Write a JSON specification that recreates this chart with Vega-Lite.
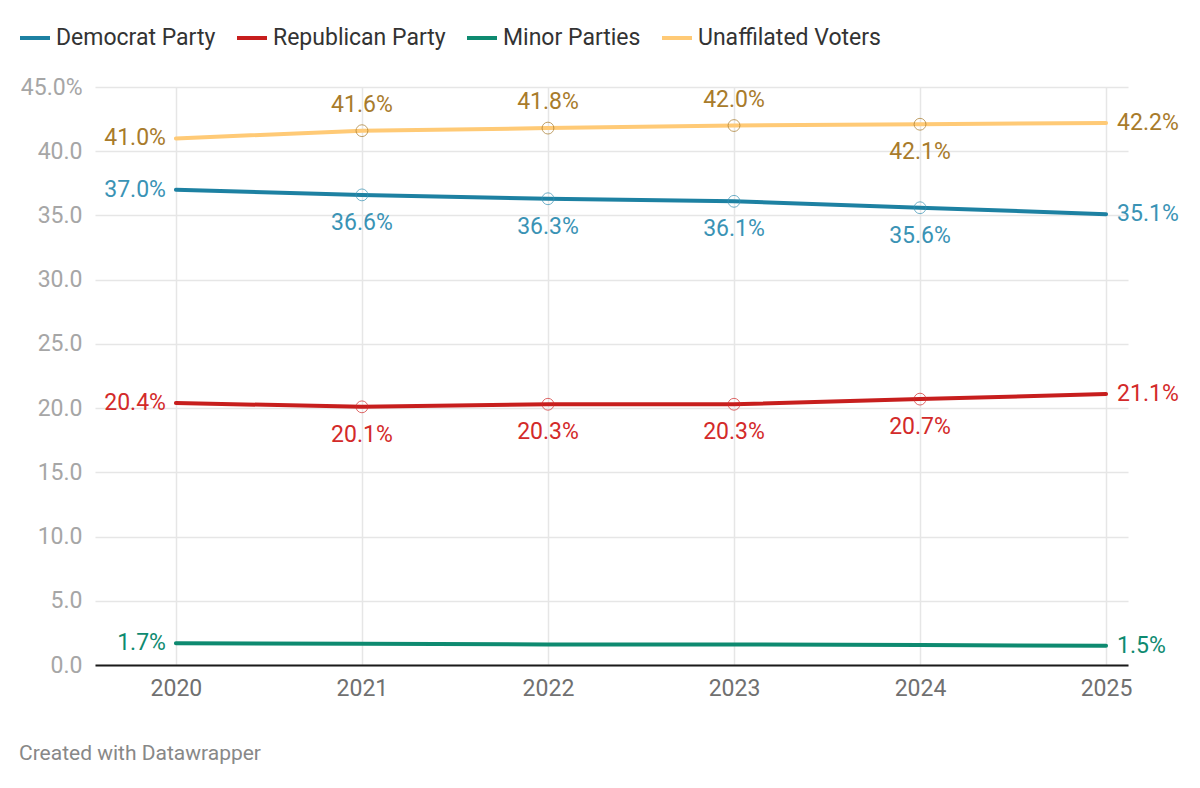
{
  "$schema": "https://vega.github.io/schema/vega-lite/v6.json",
  "width": 1033,
  "height": 578,
  "autosize": {"type": "none"},
  "padding": {"left": 95, "top": 87, "right": 72, "bottom": 123},
  "background": "white",
  "config": {
    "font": "Roboto",
    "view": {"stroke": null}
  },
  "title": {
    "text": "Created with Datawrapper",
    "orient": "bottom",
    "anchor": "start",
    "dx": 1,
    "offset": 43,
    "fontSize": 21,
    "fontWeight": "normal",
    "color": "#888888",
    "font": "Roboto"
  },
  "data": {
    "values": [
      {"year": 2020, "party": "Democrat Party", "value": 37.0},
      {"year": 2021, "party": "Democrat Party", "value": 36.6},
      {"year": 2022, "party": "Democrat Party", "value": 36.3},
      {"year": 2023, "party": "Democrat Party", "value": 36.1},
      {"year": 2024, "party": "Democrat Party", "value": 35.6},
      {"year": 2025, "party": "Democrat Party", "value": 35.1},
      {"year": 2020, "party": "Republican Party", "value": 20.4},
      {"year": 2021, "party": "Republican Party", "value": 20.1},
      {"year": 2022, "party": "Republican Party", "value": 20.3},
      {"year": 2023, "party": "Republican Party", "value": 20.3},
      {"year": 2024, "party": "Republican Party", "value": 20.7},
      {"year": 2025, "party": "Republican Party", "value": 21.1},
      {"year": 2020, "party": "Minor Parties", "value": 1.7},
      {"year": 2021, "party": "Minor Parties", "value": 1.65},
      {"year": 2022, "party": "Minor Parties", "value": 1.6},
      {"year": 2023, "party": "Minor Parties", "value": 1.6},
      {"year": 2024, "party": "Minor Parties", "value": 1.55},
      {"year": 2025, "party": "Minor Parties", "value": 1.5},
      {"year": 2020, "party": "Unaffilated Voters", "value": 41.0},
      {"year": 2021, "party": "Unaffilated Voters", "value": 41.6},
      {"year": 2022, "party": "Unaffilated Voters", "value": 41.8},
      {"year": 2023, "party": "Unaffilated Voters", "value": 42.0},
      {"year": 2024, "party": "Unaffilated Voters", "value": 42.1},
      {"year": 2025, "party": "Unaffilated Voters", "value": 42.2}
    ]
  },
  "transform": [
    {"calculate": "format(datum.value, '.1f') + '%'", "as": "label"}
  ],
  "encoding": {
    "x": {
      "field": "year",
      "type": "quantitative",
      "scale": {"domain": [2019.565, 2025.118], "nice": false, "zero": false},
      "axis": {
        "title": null,
        "values": [2020, 2021, 2022, 2023, 2024, 2025],
        "format": "d",
        "grid": true,
        "gridColor": "#e6e6e6",
        "gridWidth": 1.5,
        "ticks": false,
        "domain": true,
        "domainColor": "#1a1a1a",
        "domainWidth": 2,
        "labelFontSize": 23,
        "labelColor": "#707070",
        "labelPadding": 12,
        "labelFont": "Roboto"
      }
    },
    "y": {
      "field": "value",
      "type": "quantitative",
      "scale": {"domain": [0, 45], "nice": false},
      "axis": {
        "title": null,
        "values": [0, 5, 10, 15, 20, 25, 30, 35, 40, 45],
        "labelExpr": "datum.value == 45 ? format(datum.value, '.1f') + '%' : format(datum.value, '.1f')",
        "grid": true,
        "gridColor": "#e6e6e6",
        "gridWidth": 1.5,
        "ticks": false,
        "domain": false,
        "labelFontSize": 23,
        "labelColor": "#a6a6a6",
        "labelPadding": 13,
        "labelFont": "Roboto"
      }
    }
  },
  "layer": [
    {
      "mark": {"type": "line", "strokeWidth": 4, "strokeCap": "round"},
      "encoding": {
        "color": {
          "field": "party",
          "type": "nominal",
          "scale": {
            "domain": ["Democrat Party", "Republican Party", "Minor Parties", "Unaffilated Voters"],
            "range": ["#1d81a2", "#c71e1d", "#0e8a70", "#ffca76"]
          },
          "legend": {
            "title": null,
            "orient": "none",
            "direction": "horizontal",
            "legendX": -77,
            "legendY": -66,
            "symbolType": "stroke",
            "symbolStrokeWidth": 4,
            "symbolSize": 900,
            "labelFontSize": 23,
            "labelColor": "#333333",
            "labelFont": "Roboto",
            "labelOffset": 4,
            "columnPadding": 13,
            "labelLimit": 400
          }
        }
      }
    },
    {
      "transform": [{"filter": "datum.year > 2020 && datum.year < 2025 && datum.party != 'Minor Parties'"}],
      "mark": {"type": "point", "shape": "circle", "filled": false, "size": 140, "strokeWidth": 1},
      "encoding": {
        "color": {
          "field": "party",
          "type": "nominal",
          "scale": {
            "domain": ["Democrat Party", "Republican Party", "Minor Parties", "Unaffilated Voters"],
            "range": ["#3a93b5", "#d32a2a", "#0e8a70", "#a87b2b"]
          },
          "legend": null
        }
      }
    },
    {
      "transform": [{"filter": "datum.year == 2020"}],
      "mark": {"type": "text", "align": "right", "baseline": "middle", "dx": -10, "fontSize": 23, "font": "Roboto"},
      "encoding": {
        "text": {"field": "label"},
        "color": {
          "field": "party",
          "type": "nominal",
          "scale": {
            "domain": ["Democrat Party", "Republican Party", "Minor Parties", "Unaffilated Voters"],
            "range": ["#3a93b5", "#d32a2a", "#0e8a70", "#a87b2b"]
          },
          "legend": null
        }
      }
    },
    {
      "transform": [{"filter": "datum.year == 2025"}],
      "mark": {"type": "text", "align": "left", "baseline": "middle", "dx": 11, "fontSize": 23, "font": "Roboto"},
      "encoding": {
        "text": {"field": "label"},
        "color": {
          "field": "party",
          "type": "nominal",
          "scale": {
            "domain": ["Democrat Party", "Republican Party", "Minor Parties", "Unaffilated Voters"],
            "range": ["#3a93b5", "#d32a2a", "#0e8a70", "#a87b2b"]
          },
          "legend": null
        }
      }
    },
    {
      "transform": [{"filter": "datum.year > 2020 && datum.year < 2024 && datum.party == 'Unaffilated Voters'"}],
      "mark": {"type": "text", "align": "center", "baseline": "middle", "dy": -26, "fontSize": 23, "font": "Roboto"},
      "encoding": {
        "text": {"field": "label"},
        "color": {
          "field": "party",
          "type": "nominal",
          "scale": {
            "domain": ["Democrat Party", "Republican Party", "Minor Parties", "Unaffilated Voters"],
            "range": ["#3a93b5", "#d32a2a", "#0e8a70", "#a87b2b"]
          },
          "legend": null
        }
      }
    },
    {
      "transform": [{"filter": "datum.year > 2020 && datum.year < 2025 && datum.party != 'Minor Parties' && !(datum.party == 'Unaffilated Voters' && datum.year < 2024)"}],
      "mark": {"type": "text", "align": "center", "baseline": "middle", "dy": 28, "fontSize": 23, "font": "Roboto"},
      "encoding": {
        "text": {"field": "label"},
        "color": {
          "field": "party",
          "type": "nominal",
          "scale": {
            "domain": ["Democrat Party", "Republican Party", "Minor Parties", "Unaffilated Voters"],
            "range": ["#3a93b5", "#d32a2a", "#0e8a70", "#a87b2b"]
          },
          "legend": null
        }
      }
    }
  ],
  "resolve": {"scale": {"color": "independent"}}
}
